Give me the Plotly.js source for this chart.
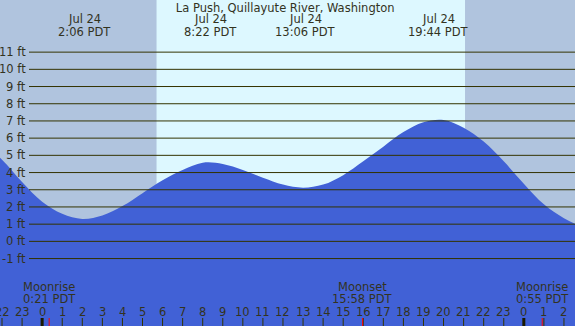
<!DOCTYPE html>
<html>
<head>
<meta charset="utf-8">
<script src="https://cdn.plot.ly/plotly-3.0.1.min.js"></script>
<style>
html,body{margin:0;padding:0;background:#fff;}
#chart{width:575px;height:326px;}
</style>
</head>
<body>
<div id="chart"></div>
<script>
// ---- data (hours relative to midnight starting Jul 24, PDT) ----
const hours   = [-3,-2,-1,0,1,2,3,4,5,6,7,8,9,10,11,12,13,14,15,16,17,18,19,20,21,22,23,24,25,26,27];
const heights = [5.75,4.75,3.45,2.3,1.6,1.3,1.5,2.05,2.8,3.55,4.15,4.57,4.5,4.15,3.7,3.3,3.12,3.3,3.85,4.65,5.5,6.35,6.92,7.05,6.6,5.8,4.65,3.35,2.15,1.35,0.8];

const tideTimes  = [2.1, 8.367, 13.1, 19.733, 27.233];
const tideDates  = ["Jul 24","Jul 24","Jul 24","Jul 24","Jul 25"];
const tideLabels = ["2:06 PDT","8:22 PDT","13:06 PDT","19:44 PDT","3:14 PDT"];

const moonTimes  = [0.35, 15.967, 24.917];
const moonNames  = ["Moonrise","Moonset","Moonrise"];
const moonLabels = ["0:21 PDT","15:58 PDT","0:55 PDT"];

const sunrise = 5.7;   // 5:42
const sunset  = 21.07; // 21:04

const levels     = [-1,0,1,2,3,4,5,6,7,8,9,10,11];
const levelText  = ["-1 ft","0 ft","1 ft","2 ft","3 ft","4 ft","5 ft","6 ft","7 ft","8 ft","9 ft","10 ft","11 ft"];

const tickHours  = [-2,-1,0,1,2,3,4,5,6,7,8,9,10,11,12,13,14,15,16,17,18,19,20,21,22,23,24,25,26];
const tickText   = ["22","23","0","1","2","3","4","5","6","7","8","9","10","11","12","13","14","15","16","17","18","19","20","21","22","23","0","1","2"];
const midnights  = [0, 24];

const title = "La Push, Quillayute River, Washington";

// ---- styling ----
const W = 575, H = 326;
const xRange = [-2.10, 26.55];
const yRange = [-4.92, 14.03];
const ink = "#333300";
const font = {family: "DejaVu Sans, sans-serif", size: 11.5, color: "#33331e"};
const py = p => 1 - p / H;
const px = p => p / W;

const shapes = [];
// night shading
shapes.push({type:"rect", xref:"x", yref:"paper", x0:xRange[0]-1, x1:sunrise, y0:0, y1:1, fillcolor:"#b0c4de", line:{width:0}, layer:"below"});
shapes.push({type:"rect", xref:"x", yref:"paper", x0:sunset, x1:xRange[1]+1, y0:0, y1:1, fillcolor:"#b0c4de", line:{width:0}, layer:"below"});
// level lines
levels.forEach(v => shapes.push({type:"line", xref:"paper", yref:"y", x0:px(29), x1:1, y0:v, y1:v, line:{color:ink, width:1}, layer:"above"}));
// hour ticks
tickHours.forEach(h => shapes.push({type:"line", xref:"x", yref:"paper", x0:h, x1:h, y0:0, y1:py(318), line:{color:ink, width:1}, layer:"above"}));
midnights.forEach(h => shapes.push({type:"line", xref:"x", yref:"paper", x0:h, x1:h, y0:0, y1:py(318), line:{color:"#1a1a00", width:3}, layer:"above"}));
moonTimes.forEach(h => shapes.push({type:"line", xref:"x", yref:"paper", x0:h, x1:h, y0:0, y1:py(318), line:{color:"#ff0000", width:1}, layer:"above"}));

const ann = [];
levels.forEach((v,i) => ann.push({xref:"paper", yref:"y", x:px(28), y:v, xanchor:"right", yanchor:"middle", text:levelText[i], showarrow:false, font}));
tideTimes.forEach((t,i) => {
  ann.push({xref:"x", yref:"paper", x:t, y:py(19.5), xanchor:"center", yanchor:"middle", text:tideDates[i], showarrow:false, font});
  ann.push({xref:"x", yref:"paper", x:t, y:py(31.5), xanchor:"center", yanchor:"middle", text:tideLabels[i], showarrow:false, font});
});
moonTimes.forEach((t,i) => {
  ann.push({xref:"x", yref:"paper", x:t, y:py(287), xanchor:"center", yanchor:"middle", text:moonNames[i], showarrow:false, font});
  ann.push({xref:"x", yref:"paper", x:t, y:py(299), xanchor:"center", yanchor:"middle", text:moonLabels[i], showarrow:false, font});
});
tickHours.forEach((h,i) => ann.push({xref:"x", yref:"paper", x:h, y:py(311.7), xanchor:"center", yanchor:"middle", text:tickText[i], showarrow:false, font}));

const base = {x:hours, y:hours.map(() => yRange[0] - 2), mode:"lines", line:{width:0}, hoverinfo:"skip", showlegend:false};
const tide = {x:hours, y:heights, mode:"lines", line:{width:0, shape:"spline", smoothing:1}, fill:"tonexty", fillcolor:"#4161d6", showlegend:false};

const layout = {
  width:W, height:H,
  margin:{l:0, r:0, t:0, b:0, pad:0},
  paper_bgcolor:"#ffffff",
  plot_bgcolor:"#ddf8ff",
  title:{text:title, font, x:0.496, xanchor:"center", y:py(7.5), yanchor:"middle", xref:"paper", yref:"paper"},
  xaxis:{range:xRange, visible:false, fixedrange:true},
  yaxis:{range:yRange, visible:false, fixedrange:true},
  shapes, annotations:ann, showlegend:false
};

Plotly.newPlot("chart", [base, tide], layout, {displayModeBar:false, staticPlot:true});
</script>
</body>
</html>
